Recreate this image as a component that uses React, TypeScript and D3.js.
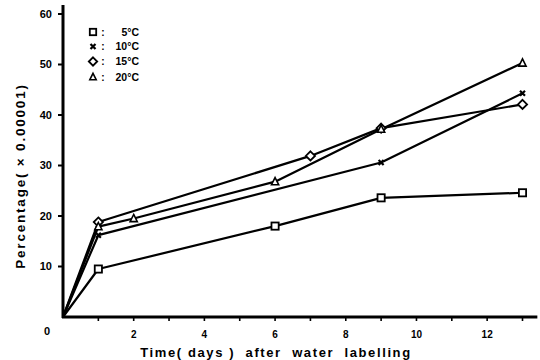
import React from "react";
import * as d3 from "d3";

const days5 = [0, 1, 6, 9, 13];
const vals5 = [0, 9.5, 18, 23.6, 24.6];
const days10 = [0, 1, 9, 13];
const vals10 = [0, 16.2, 30.6, 44.3];
const days15 = [0, 1, 7, 9, 13];
const vals15 = [0, 18.8, 31.9, 37.4, 42.1];
const days20 = [0, 1, 2, 6, 9, 13];
const vals20 = [0, 17.9, 19.5, 26.8, 37.2, 50.3];

const seriesLabels = ["5°C", "10°C", "15°C", "20°C"];
const seriesMarkers = ["square", "cross", "diamond", "triangle"];
const xTickLabels = [2, 4, 6, 8, 10, 12];
const yTickLabels = [10, 20, 30, 40, 50, 60];

const W = 540;
const H = 360;

const x = d3.scaleLinear().domain([0, 13]).range([63, 522.5]);
const y = d3.scaleLinear().domain([0, 60]).range([317, 14]);

function Marker({ type, cx, cy, s = 3.6 }: { type: string; cx: number; cy: number; s?: number }) {
  if (type === "square")
    return <rect x={cx - s} y={cy - s} width={2 * s} height={2 * s} fill="white" stroke="black" strokeWidth={1.8} />;
  if (type === "diamond")
    return (
      <path
        d={`M${cx},${cy - s - 1}L${cx + s + 1},${cy}L${cx},${cy + s + 1}L${cx - s - 1},${cy}Z`}
        fill="white"
        stroke="black"
        strokeWidth={1.8}
      />
    );
  if (type === "triangle")
    return (
      <path
        d={`M${cx},${cy - s - 0.5}L${cx + s},${cy + s - 0.5}L${cx - s},${cy + s - 0.5}Z`}
        fill="white"
        stroke="black"
        strokeWidth={1.6}
      />
    );
  return (
    <path
      d={`M${cx - 2.5},${cy - 2.5}L${cx + 2.5},${cy + 2.5}M${cx + 2.5},${cy - 2.5}L${cx - 2.5},${cy + 2.5}`}
      stroke="black"
      strokeWidth={2.2}
    />
  );
}

export default function App() {
  const series = [
    { d: days5, v: vals5 },
    { d: days10, v: vals10 },
    { d: days15, v: vals15 },
    { d: days20, v: vals20 },
  ];
  const line = d3
    .line<[number, number]>()
    .x((p) => x(p[0]))
    .y((p) => y(p[1]));
  const minorTicks = d3.range(1, 14);
  const font = "'Liberation Sans', Arial, sans-serif";
  const legendY = [32, 46.5, 61.5, 77];

  return (
    <svg
      width={W}
      height={H}
      style={{ position: "absolute", left: 0, top: 0, background: "white" }}
      fontFamily={font}
    >
      <rect width={W} height={H} fill="white" />
      {series.map((s, i) => (
        <path
          key={i}
          d={line(s.d.map((dd, j) => [dd, s.v[j]] as [number, number])) || ""}
          fill="none"
          stroke="black"
          strokeWidth={2.2}
          strokeLinejoin="round"
        />
      ))}
      {series.map((s, i) =>
        s.d.map((dd, j) =>
          dd === 0 ? null : <Marker key={`${i}-${j}`} type={seriesMarkers[i]} cx={x(dd)} cy={y(s.v[j])} />
        )
      )}
      <line x1={x(0)} y1={y(0) + 1} x2={x(0)} y2={y(61.8)} stroke="black" strokeWidth={3} />
      <line x1={x(0) - 1} y1={y(0)} x2={x(13.42)} y2={y(0)} stroke="black" strokeWidth={3} />
      {yTickLabels.map((t) => (
        <g key={t}>
          <line x1={x(0) - 5} x2={x(0)} y1={y(t)} y2={y(t)} stroke="black" strokeWidth={2} />
          <text x={52} y={y(t)} dy="0.36em" textAnchor="end" fontSize={11} fontWeight="bold">
            {t}
          </text>
        </g>
      ))}
      <text x={47} y={331} dy="0.36em" textAnchor="middle" fontSize={11} fontWeight="bold">
        0
      </text>
      {minorTicks.map((t) => (
        <line key={t} x1={x(t)} x2={x(t)} y1={y(0)} y2={y(0) + 4} stroke="black" strokeWidth={1.6} />
      ))}
      {xTickLabels.map((t) => (
        <text key={t} x={x(t)} y={334} dy="0.36em" textAnchor="middle" fontSize={10} fontWeight="bold">
          {t}
        </text>
      ))}
      <text
        x={276}
        y={352}
        dy="0.36em"
        textAnchor="middle"
        fontSize={13}
        fontWeight="bold"
        letterSpacing={1.6}
        style={{ whiteSpace: "pre" }}
      >
        {"Time( days )  after  water  labelling"}
      </text>
      <text
        transform={`translate(20,176) rotate(-90)`}
        dy="0.36em"
        textAnchor="middle"
        fontSize={13.5}
        fontWeight="bold"
        letterSpacing={1.8}
      >
        {"Percentage( × 0.00001)"}
      </text>
      {seriesLabels.map((lab, i) => (
        <g key={lab}>
          <Marker type={seriesMarkers[i]} cx={93} cy={legendY[i]} s={3.2} />
          <text x={103} y={legendY[i]} dy="0.36em" textAnchor="middle" fontSize={10} fontWeight="bold">
            :
          </text>
          <text x={139} y={legendY[i]} dy="0.36em" textAnchor="end" fontSize={10.5} fontWeight="bold">
            {lab}
          </text>
        </g>
      ))}
    </svg>
  );
}
